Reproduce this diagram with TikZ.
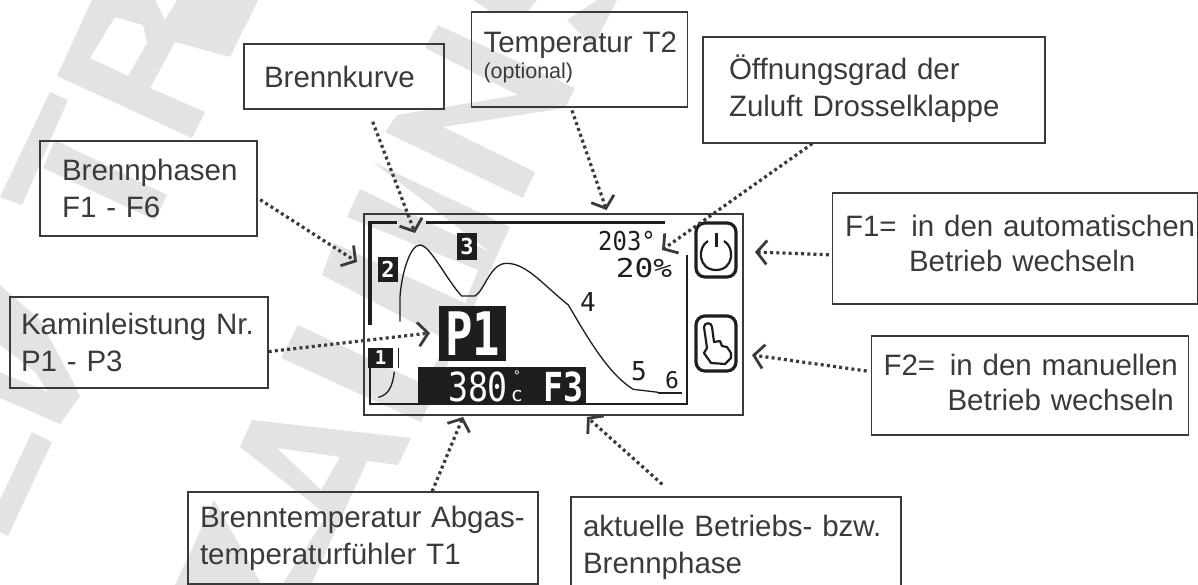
\documentclass[tikz,border=0pt]{standalone}
\usepackage{fontspec}
\setmainfont{Liberation Sans}
\newfontfamily\lcdfont{DejaVu Sans Mono}
\usetikzlibrary{arrows.meta}
\definecolor{wm}{HTML}{E3E3E3}
\definecolor{ink}{HTML}{3A3A3A}
\definecolor{lcd}{HTML}{1E1E1E}
\tikzset{
  note/.style={draw=ink,line width=1.3pt,inner sep=0pt,align=left,text=ink,font=\fontsize{29.5}{37}\selectfont},
  callout/.style={draw=ink,line width=3.2pt,dash pattern=on 3pt off 3.2pt,
    -{Straight Barb[length=10pt,width=24pt,line width=2.8pt]}},
  lcdthick/.style={draw=lcd,line width=3.2pt},
  lcdthin/.style={draw=lcd,line width=2.2pt},
  lcdcurve/.style={draw=lcd,line width=1.3pt},
  lcdtext/.style={text=lcd,inner sep=0pt,font=\lcdfont\fontsize{26}{26}\selectfont},
  lcdinv/.style={text=white,inner sep=0pt},
  markbox/.style={fill=lcd,text=white,inner sep=0pt,font=\lcdfont\bfseries\fontsize{22}{22}\selectfont},
  blackbox/.style={fill=lcd,inner sep=0pt},
  button/.style={draw=lcd,line width=3.2pt,rounded corners=9pt},
  watermark/.style={fill=wm,draw=none}
}
\begin{document}
\begin{tikzpicture}[x=1pt,y=-1pt]
\useasboundingbox (0,0) rectangle (1198,585);
\clip (0,0) rectangle (1198,585);
% watermark letters
\fill[watermark] (50,92)--(68,100)--(22,205)--(0,197)--cycle;
\fill[watermark] (55,140)--(167,195)--(155,220)--(43,168)--cycle;
\fill[watermark,even odd rule] (57,76)--(92,0)--(155,0)--(165,20)--(177,0)--(258,0)--(247,23)--(243,30)--(230,57)--(175,42)--(150,88)--(205,112)--(192,138)--cycle
  (90,58)--(115,17)--(143,25)--(147,43)--(128,76)--cycle;
\fill[watermark] (0,285)--(40,320)--(72,380)--(80,396)--(60,424)--(0,398)--cycle;
\fill[white] (0,345)--(35,372)--(48,392)--(0,372)--cycle;
\fill[watermark] (32,432)--(52,442)--(8,536)--(0,532)--(0,500)--cycle;
\fill[watermark,even odd rule] (252,420)--(411,438)--(398,465)--(367,461)--(347,505)--(311,585)--(282,585)--(327,515)--(240,447)--cycle
  (277,448)--(340,457)--(321,490)--cycle;
\fill[watermark] (214,500)--(262,585)--(175,585)--(196,540)--cycle;
\fill[watermark] (438,25)--(575,88)--(565,108)--(443,127)--(535,172)--(523,198)--(385,132)--(397,115)--(518,95)--(425,48)--cycle;
\fill[watermark] (473,0)--(537,0)--(528,11)--(490,11)--cycle;
\fill[watermark] (567,20)--(597,0)--(617,0)--(593,47)--cycle;
\fill[watermark] (373,162)--(510,227)--(421,422)--(281,358)--(298,325)--(425,385)--(447,340)--(322,275)--(334,243)--(465,303)--(478,270)--(347,217)--(360,189)--(490,252)--cycle;

% callout boxes
\node[note,minimum width=200pt,minimum height=65pt,text width=160pt] (kurve) at (344,76.5) {\mbox{Brennkurve}};
\node[note,minimum width=217pt,minimum height=95pt,text width=173pt] (phasen) at (148.5,188.5) {\mbox{Brennphasen}\\F1 - F6};
\node[note,minimum width=258pt,minimum height=91pt,text width=236pt] (leistung) at (139,342.5) {\mbox{Kaminleistung Nr.}\\P1 - P3};
\node[note,minimum width=216pt,minimum height=95pt,text width=192pt,font=\fontsize{29.5}{26}\selectfont] (tzwei) at (579.5,59.5) {\mbox{Temperatur T2}\\{\fontsize{21.5}{26}\selectfont (optional)}\\[-18pt]\mbox{}};
\node[note,minimum width=342pt,minimum height=106pt,text width=290pt] (klappe) at (874,90) {\mbox{Öffnungsgrad der}\\\mbox{Zuluft Drosselklappe}\\[-29pt]\mbox{}};
\node[note,minimum width=365pt,minimum height=111pt,text width=340pt] (fone) at (1015,248.5) {\mbox{F1= \,in den automatischen}\\[-2pt]\hspace*{64pt}\mbox{Betrieb wechseln}\\[-26pt]\mbox{}};
\node[note,minimum width=317.5pt,minimum height=99pt,text width=293pt] (ftwo) at (1030,385.5) {\mbox{F2= \,in den manuellen}\\[-2pt]\hspace*{64pt}\mbox{Betrieb wechseln}\\[-30pt]\mbox{}};
\node[note,minimum width=350pt,minimum height=92pt,text width=326pt] (abgas) at (363,538) {\mbox{Brenntemperatur Abgas-}\\\mbox{temperaturfühler T1}};
\node[note,minimum width=330pt,minimum height=100pt,text width=306pt] (betrieb) at (736,547) {\mbox{aktuelle Betriebs- bzw.}\\Brennphase};

% display
\node[draw=ink,line width=1.5pt,minimum width=379pt,minimum height=201pt,inner sep=0pt] (display) at (553.5,314.5) {};
\begin{scope}[shift={(350pt,-200pt)},x=0.33333pt,y=-0.33333pt]
  \draw[lcdthick] (140,68)--(60,68)--(60,375);
  \draw[lcdthick] (228,68)--(945,68);
  \draw[lcdthin] (60,450)--(60,612)--(1012,612)--(1012,165);
  \draw[lcdcurve] (85,592) .. controls (115,585) and (128,560) .. (133,515);
  \draw[lcdcurve] (150,365)--(150,290) .. controls (155,220) and (180,135) .. (210,135)
    .. controls (240,135) and (290,240) .. (335,288) -- (375,288)
    .. controls (405,270) and (420,190) .. (470,190)
    .. controls (530,190) and (580,255) .. (655,315)
    .. controls (700,390) and (770,520) .. (850,568) -- (925,577);
  \draw[lcdcurve,line width=1.8pt] (925,579)--(995,579);
  \draw[lcdcurve] (145,445)--(145,505);
\end{scope}
\node[blackbox,minimum width=67pt,minimum height=55pt] (pbox) at (472.5,333.5) {};
\node[blackbox,minimum width=168pt,minimum height=37pt] (tbar) at (502,385.5) {};
\node[markbox,minimum width=20pt,minimum height=27pt] (mthree) at (467,246.7) {3};
\node[markbox,minimum width=20pt,minimum height=25pt] (mtwo) at (388,269.5) {2};
\node[markbox,minimum width=25pt,minimum height=20pt,font=\lcdfont\bfseries\fontsize{19}{19}\selectfont] (mone) at (380.5,358) {1};
\node[lcdinv,font=\lcdfont\bfseries\fontsize{60}{60}\selectfont] (pone) at (472.5,333.5) {\scalebox{0.76}[1]{P1}};
\node[lcdinv,font=\lcdfont\fontsize{40}{40}\selectfont] (tval) at (478,387) {\scalebox{0.83}[1]{380}};
\node[lcdinv,font=\lcdfont\fontsize{13}{13}\selectfont] (tdeg) at (517,376) {°};
\node[lcdinv,font=\lcdfont\fontsize{20}{20}\selectfont] (tunit) at (517,396) {c};
\node[lcdinv,font=\lcdfont\bfseries\fontsize{40}{40}\selectfont] (phase) at (563,387) {\scalebox{0.83}[1]{F3}};
\node[lcdtext] (ttwo) at (627,241) {\scalebox{0.92}[1]{203°}};
\node[lcdtext] (flap) at (644,268) {\scalebox{1.2}[1]{20\%}};
\node[lcdtext] (pfour) at (588,302) {4};
\node[lcdtext] (pfive) at (639,371) {5};
\node[lcdtext,font=\lcdfont\fontsize{23}{23}\selectfont] (psix) at (672,380) {6};
% buttons
\draw[button] (696,223) rectangle (736,277);
\draw[lcdthin] (708,241) .. controls (697,247) and (698,270) .. (716,270) .. controls (734,270) and (735,247) .. (724,241);
\draw[lcd,line width=3pt] (716,233)--(716,247);
\draw[button] (696,316) rectangle (736,371);
\draw[lcdthin,line join=round] (704,327) .. controls (704,322) and (712,322) .. (712,327) -- (714,342) -- (720,341) -- (722,346) -- (727,347) -- (731,353) -- (731,358) -- (725,364) -- (711,363) -- (704,353) -- (707,348) -- cycle;

% connectors
\coordinate (tipkurve) at (415,233);
\coordinate (tipphasen) at (357,262);
\coordinate (tipleistung) at (430,333);
\coordinate (tiptzwei) at (606.5,210);
\coordinate (tipklappe) at (662,250);
\coordinate (tipfone) at (755,252);
\coordinate (tipftwo) at (752,355);
\coordinate (tipabgas) at (463,417);
\coordinate (tipbetrieb) at (587,417);
\draw[callout,shorten <=13pt] (kurve.-54.7) -- (tipkurve);
\draw[callout,shorten <=3pt] (phasen.-5) -- (tipphasen);
\draw[callout] (leistung.-4.2) -- (tipleistung);
\draw[callout,shorten <=3pt] (tzwei.-100.1) -- (tiptzwei);
\draw[callout] (klappe.-139.2) -- (tipklappe);
\draw[callout,shorten <=3pt] (fone.-178.9) -- (tipfone);
\draw[callout,shorten <=4pt] (ftwo.175.3) -- (tipftwo);
\draw[callout] (abgas.34.3) -- (tipabgas);
\draw[callout,shorten <=18pt] (betrieb.140.1) -- (tipbetrieb);
\end{tikzpicture}
\end{document}
